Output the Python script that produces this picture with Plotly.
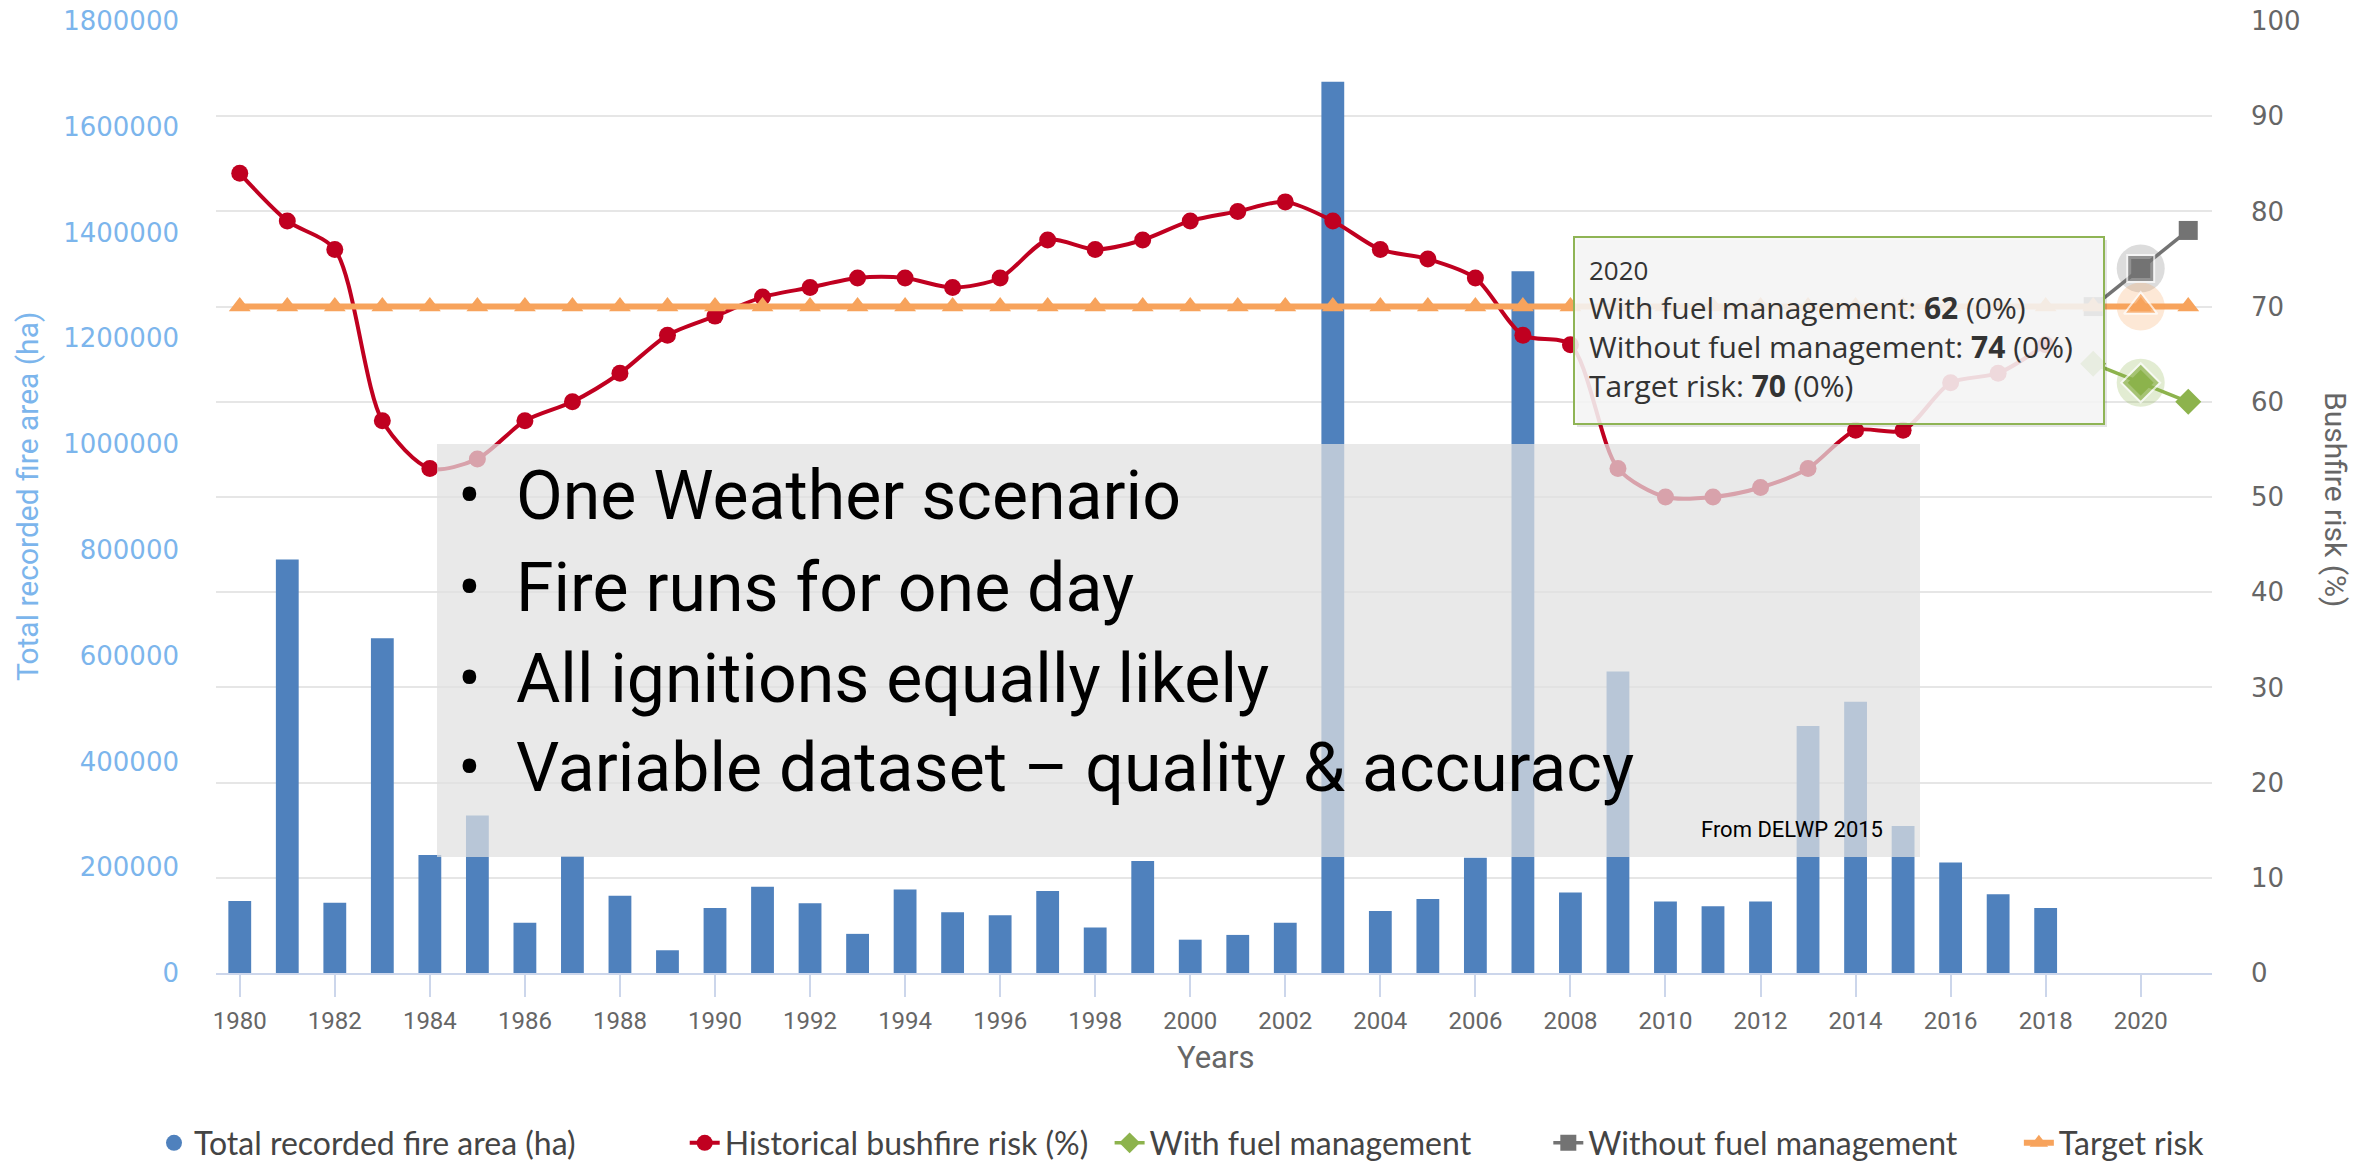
import plotly.graph_objects as go

# ---------------- data ----------------
years = [1980, 1981, 1982, 1983, 1984, 1985, 1986, 1987, 1988, 1989,
         1990, 1991, 1992, 1993, 1994, 1995, 1996, 1997, 1998, 1999,
         2000, 2001, 2002, 2003, 2004, 2005, 2006, 2007, 2008, 2009,
         2010, 2011, 2012, 2013, 2014, 2015, 2016, 2017, 2018]
fire_area_ha = [136000, 782000, 133000, 633000, 223000, 298000, 95000, 221000, 146000, 43000,
                123000, 163000, 132000, 74000, 158000, 115000, 109000, 155000, 86000, 212000,
                63000, 72000, 95000, 1685000, 117000, 140000, 218000, 1327000, 152000, 570000,
                135000, 126000, 135000, 467000, 513000, 278000, 209000, 149000, 123000]
historical_risk = [84, 79, 76, 58, 53, 54, 58, 60, 63, 67,
                   69, 71, 72, 73, 73, 72, 73, 77, 76, 77,
                   79, 80, 81, 79, 76, 75, 73, 67, 66, 53,
                   50, 50, 51, 53, 57, 57, 62, 63, 66]
scenario_years = [2019, 2020, 2021]
with_fuel_mgmt = [64, 62, 60]
without_fuel_mgmt = [70, 74, 78]
target_years = [1980, 1981, 1982, 1983, 1984, 1985, 1986, 1987, 1988, 1989,
                1990, 1991, 1992, 1993, 1994, 1995, 1996, 1997, 1998, 1999,
                2000, 2001, 2002, 2003, 2004, 2005, 2006, 2007, 2008, 2009,
                2010, 2011, 2012, 2013, 2014, 2015, 2016, 2017, 2018, 2019,
                2020, 2021]
target_risk = [70, 70, 70, 70, 70, 70, 70, 70, 70, 70,
               70, 70, 70, 70, 70, 70, 70, 70, 70, 70,
               70, 70, 70, 70, 70, 70, 70, 70, 70, 70,
               70, 70, 70, 70, 70, 70, 70, 70, 70, 70,
               70, 70]
x_tick_vals = [1980, 1982, 1984, 1986, 1988, 1990, 1992, 1994, 1996, 1998, 2000,
               2002, 2004, 2006, 2008, 2010, 2012, 2014, 2016, 2018, 2020]
x_tick_text = ["1980", "1982", "1984", "1986", "1988", "1990", "1992", "1994", "1996", "1998", "2000",
               "2002", "2004", "2006", "2008", "2010", "2012", "2014", "2016", "2018", "2020"]
left_tick_vals = [0, 200000, 400000, 600000, 800000, 1000000, 1200000, 1400000, 1600000, 1800000]
left_tick_text = ["0", "200000", "400000", "600000", "800000", "1000000", "1200000", "1400000", "1600000", "1800000"]
right_tick_vals = [0, 10, 20, 30, 40, 50, 60, 70, 80, 90, 100]
right_tick_text = ["0", "10", "20", "30", "40", "50", "60", "70", "80", "90", "100"]
bullet_lines = ["One Weather scenario", "Fire runs for one day",
                "All ignitions equally likely", "Variable dataset \u2013 quality & accuracy"]
series_names = ["Total recorded fire area (ha)", "Historical bushfire risk (%)",
                "With fuel management", "Without fuel management", "Target risk"]
hover_year = 2020

# ---------------- geometry helpers (pixel -> paper) ----------------
W, H = 2371, 1163
PL, PR, PT, PB = 216, 2212, 21, 973


def px(x):
    return (x - PL) / (PR - PL)


def py(y):
    return (PB - y) / (PB - PT)


# legend spacing (trailing fixed-width spaces between entries)
EN = "\u2002"
NB = "\u00a0"
legend_pad = [EN * 6 + NB, NB * 2, EN * 4 + NB, EN * 2 + NB * 3, ""]
leg = [n + p for n, p in zip(series_names, legend_pad)]

BLUE = "#4f81bd"
RED = "#c00020"
GREEN = "#8db34d"
GRAY = "#737373"
ORANGE = "#f7a35c"

fig = go.Figure()

fig.add_trace(go.Bar(x=years, y=fire_area_ha, marker=dict(color=BLUE, line=dict(width=0)),
                     width=0.48, name=series_names[0], showlegend=False, yaxis="y"))
fig.add_trace(go.Scatter(x=[None], y=[None], mode="markers", name=leg[0],
                         marker=dict(symbol="circle", size=22, color=BLUE), yaxis="y"))
fig.add_trace(go.Scatter(x=years, y=historical_risk, mode="lines+markers", name=leg[1],
                         line=dict(color=RED, width=4, shape="spline", smoothing=0.8),
                         marker=dict(symbol="circle", size=17, color=RED), yaxis="y2"))
fig.add_trace(go.Scatter(x=scenario_years, y=with_fuel_mgmt, mode="lines+markers", name=leg[2],
                         line=dict(color=GREEN, width=3.5),
                         marker=dict(symbol="diamond", size=20, color=GREEN), yaxis="y2"))
fig.add_trace(go.Scatter(x=scenario_years, y=without_fuel_mgmt, mode="lines+markers", name=leg[3],
                         line=dict(color=GRAY, width=3.5),
                         marker=dict(symbol="square", size=19, color=GRAY), yaxis="y2"))
fig.add_trace(go.Scatter(x=target_years, y=target_risk, mode="lines+markers", name=leg[4],
                         line=dict(color=ORANGE, width=6),
                         marker=dict(symbol="triangle-up", size=19, color=ORANGE), yaxis="y2"))

# hover state at 2020 (halo + enlarged markers)
si = scenario_years.index(hover_year)
ti = target_years.index(hover_year)
halo_y = [without_fuel_mgmt[si], target_risk[ti], with_fuel_mgmt[si]]
fig.add_trace(go.Scatter(x=[hover_year] * 3, y=halo_y, mode="markers", showlegend=False, hoverinfo="skip",
                         marker=dict(symbol="circle", size=48,
                                     color=["rgba(115,115,115,0.25)", "rgba(247,163,92,0.25)",
                                            "rgba(141,179,77,0.25)"]), yaxis="y2"))
fig.add_trace(go.Scatter(x=[hover_year] * 3, y=halo_y, mode="markers", showlegend=False, hoverinfo="skip",
                         marker=dict(symbol=["square", "triangle-up", "diamond"], size=[27, 29, 30],
                                     color=[GRAY, ORANGE, GREEN], line=dict(color="white", width=2)),
                         yaxis="y2"))

shapes = [
    # overlay box
    dict(type="rect", xref="paper", yref="paper", x0=px(437), x1=px(1920), y0=py(857), y1=py(444),
         fillcolor="rgba(225,225,225,0.72)", line=dict(width=0), layer="above"),
    # tooltip shadow
    dict(type="rect", xref="paper", yref="paper", x0=px(1577), x1=px(2107), y0=py(427), y1=py(240),
         fillcolor="rgba(0,0,0,0.10)", line=dict(width=0), layer="above"),
    # tooltip
    dict(type="rect", xref="paper", yref="paper", x0=px(1574), x1=px(2104), y0=py(424), y1=py(237),
         fillcolor="rgba(247,247,247,0.88)", line=dict(color="#8fb455", width=2), layer="above"),
]

annotations = [
    dict(text="Total recorded fire area (ha)", xref="paper", yref="paper", x=px(27), y=py(497),
         textangle=-90, showarrow=False, xanchor="center", yanchor="middle",
         font=dict(family="Roboto", size=30, color="#7cb5ec")),
    dict(text="Bushfire risk (%)", xref="paper", yref="paper", x=px(2336), y=py(499),
         textangle=90, showarrow=False, xanchor="center", yanchor="middle",
         font=dict(family="Roboto", size=30, color="#666666")),
    dict(text="Years", xref="paper", yref="paper", x=px(1215), y=py(1057),
         showarrow=False, xanchor="center", yanchor="middle",
         font=dict(family="Roboto", size=31, color="#666666")),
    dict(text="From DELWP 2015", xref="paper", yref="paper", x=px(1699), y=py(829),
         showarrow=False, xanchor="left", yanchor="middle",
         font=dict(family="Roboto", size=22, color="#000000")),
]

line_centers = [496, 588, 679, 768]
for txt, yc in zip(bullet_lines, line_centers):
    annotations.append(dict(text="\u2022", xref="paper", yref="paper", x=px(469), y=py(yc),
                            showarrow=False, xanchor="center", yanchor="middle",
                            font=dict(family="Roboto", size=68, color="#000000")))
    annotations.append(dict(text=txt, xref="paper", yref="paper", x=px(514), y=py(yc),
                            showarrow=False, xanchor="left", yanchor="middle",
                            font=dict(family="Roboto", size=68, color="#000000")))

# tooltip text as one block (header slightly smaller)
tip_text = ("<span style='font-size:26px'>%d</span><br>"
            "With fuel management: <b>%d</b> (0%%)<br>"
            "Without fuel management: <b>%d</b> (0%%)<br>"
            "Target risk: <b>%d</b> (0%%)") % (hover_year, with_fuel_mgmt[si],
                                               without_fuel_mgmt[si], target_risk[ti])
annotations.append(dict(text=tip_text, xref="paper", yref="paper", x=px(1587), y=py(329),
                        showarrow=False, xanchor="left", yanchor="middle", align="left",
                        font=dict(family="Open Sans", size=30, color="#333333")))

fig.update_layout(
    width=W, height=H,
    margin=dict(l=PL, r=W - PR, t=PT, b=H - PB, pad=0, autoexpand=False),
    plot_bgcolor="white", paper_bgcolor="white",
    hovermode=False,
    xaxis=dict(range=[1979.5, 2021.5], tickvals=x_tick_vals, ticktext=x_tick_text,
               ticks="outside", ticklen=22, tickwidth=2, tickcolor="#ccd6eb",
               showline=True, linecolor="#ccd6eb", linewidth=2,
               showgrid=False, zeroline=False, automargin=False, ticklabelstandoff=3,
               tickfont=dict(family="Roboto", size=24, color="#666666")),
    yaxis=dict(range=[0, 1800000], tickvals=left_tick_vals, ticktext=left_tick_text,
               showgrid=False, zeroline=False, showline=False, ticks="", automargin=False,
               ticklabelstandoff=36,
               tickfont=dict(family="DejaVu Sans", size=26, color="#7cb5ec")),
    yaxis2=dict(range=[0, 100], tickvals=right_tick_vals, ticktext=right_tick_text,
                overlaying="y", side="right", showgrid=True, gridcolor="#e6e6e6", gridwidth=2,
                zeroline=False, showline=False, ticks="", ticklabelstandoff=38, automargin=False,
                tickfont=dict(family="DejaVu Sans", size=26, color="#666666")),
    legend=dict(orientation="h", x=px(154), xanchor="left", y=py(1143), yanchor="middle",
                font=dict(family="Lato", size=32, color="#444444"), itemsizing="trace",
                bgcolor="rgba(0,0,0,0)"),
    shapes=shapes,
    annotations=annotations,
)

fig.write_html("out.html",
               config={"displayModeBar": False},
               post_script="document.body.style.margin='0px';"
                           "document.documentElement.style.overflow='hidden';")
